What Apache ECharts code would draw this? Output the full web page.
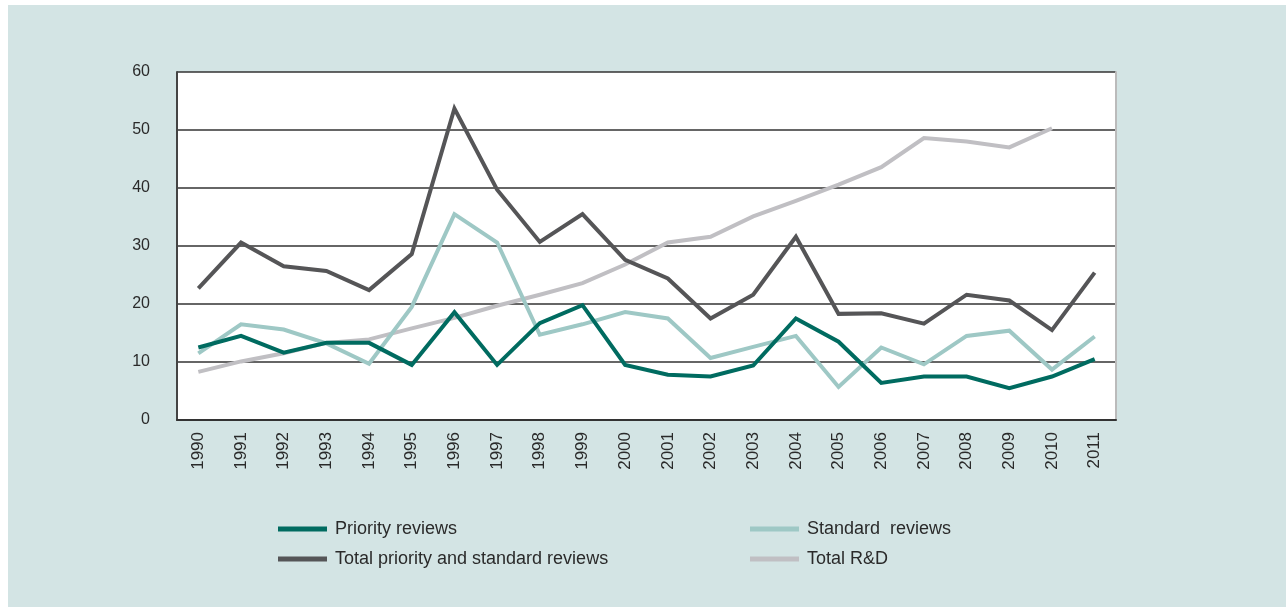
<!DOCTYPE html>
<html>
<head>
<meta charset="utf-8">
<script src="https://cdn.jsdelivr.net/npm/echarts@6/dist/echarts.min.js"></script>
<style>
html,body{margin:0;padding:0;background:#ffffff;width:1286px;height:607px;overflow:hidden;}
#chart{position:absolute;left:8px;top:5px;width:1278px;height:602px;}
</style>
</head>
<body>
<div id="chart"></div>
<script>
const years = ['1990','1991','1992','1993','1994','1995','1996','1997','1998','1999','2000','2001','2002','2003','2004','2005','2006','2007','2008','2009','2010','2011'];
const priorityReviews = [12.5,14.5,11.6,13.3,13.3,9.5,18.6,9.5,16.7,19.8,9.5,7.8,7.5,9.4,17.5,13.5,6.4,7.5,7.5,5.5,7.5,10.5];
const standardReviews = [11.5,16.5,15.6,13.2,9.7,19.5,35.5,30.6,14.7,16.5,18.6,17.5,10.7,12.6,14.5,5.7,12.5,9.6,14.5,15.4,8.7,14.4];
const totalReviews = [22.7,30.6,26.5,25.7,22.4,28.6,53.7,39.7,30.7,35.5,27.6,24.4,17.5,21.6,31.6,18.3,18.4,16.6,21.6,20.6,15.5,25.4];
const totalRD = [8.3,10.1,11.5,13.3,13.9,15.8,17.6,19.7,21.6,23.6,26.8,30.6,31.6,35.1,37.8,40.6,43.6,48.6,48.0,47.0,50.3,null];
const yTicks = [0,10,20,30,40,50,60];

const names = ['Priority reviews','Standard  reviews','Total priority and standard reviews','Total R&D'];
const colors = ['#006b60','#9ec8c5','#555557','#c0bfc3'];

const chart = echarts.init(document.getElementById('chart'));
const font = 'Liberation Sans, Arial, Helvetica, sans-serif';
function mk(i, data){
  return {name:names[i], type:'line', data:data, symbol:'none', connectNulls:false,
    lineStyle:{color:colors[i], width:4, join:'miter'}, itemStyle:{color:colors[i]}};
}
const legendText = {fontSize:18, color:'#2a2a2a', fontFamily:font, padding:[0,0,0,3]};
chart.setOption({
  backgroundColor:'#d3e4e4',
  animation:false,
  textStyle:{fontFamily:font},
  grid:{left:169, top:67, right:170, bottom:187, show:true, backgroundColor:'#ffffff', borderWidth:0},
  legend:[
    {data:[names[0],names[2]], orient:'vertical', left:265, top:510, itemGap:12,
     icon:'rect', itemWidth:49, itemHeight:5, textStyle:legendText},
    {data:[names[1],names[3]], orient:'vertical', left:737, top:510, itemGap:12,
     icon:'rect', itemWidth:49, itemHeight:5, textStyle:legendText}
  ],
  xAxis:{type:'category', data:years, boundaryGap:true,
    axisLine:{show:true, lineStyle:{color:'#333', width:2}},
    axisTick:{show:false},
    axisLabel:{rotate:90, fontSize:17, color:'#2a2a2a', margin:12, interval:0, fontFamily:font}},
  yAxis:[
    {type:'value', min:0, max:60, interval:10,
     axisLine:{show:true, lineStyle:{color:'#444', width:2}},
     axisTick:{show:false},
     splitLine:{show:true, lineStyle:{color:'#333', width:1.5}},
     axisLabel:{fontSize:16, color:'#2a2a2a', margin:27, fontFamily:font,
       formatter:function(v){return yTicks.indexOf(v)>=0 ? String(v) : '';}}},
    {type:'value', min:0, max:60, interval:10, position:'right',
     axisLine:{show:true, lineStyle:{color:'#bbbbbb', width:2}},
     axisTick:{show:false}, axisLabel:{show:false}, splitLine:{show:false}}
  ],
  series:[
    mk(3,totalRD),
    mk(1,standardReviews),
    mk(0,priorityReviews),
    mk(2,totalReviews)
  ]
});
</script>
</body>
</html>
